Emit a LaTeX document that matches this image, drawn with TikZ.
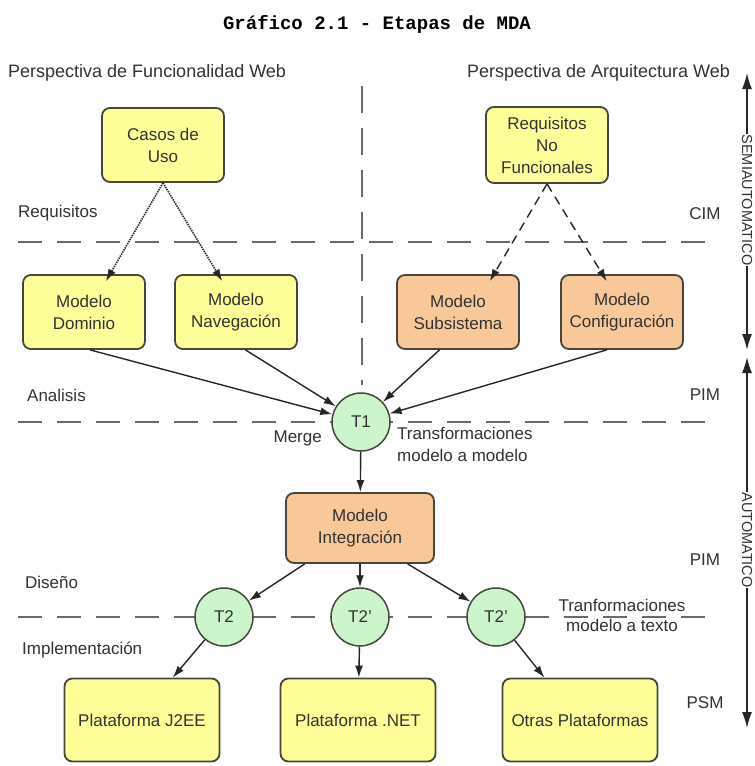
\documentclass[tikz,border=0pt]{standalone}
\usepackage{fontspec}
\setmainfont{Liberation Sans}
\newfontfamily\titlefont{Liberation Mono}
\usetikzlibrary{arrows.meta,calc}
\definecolor{boxyellow}{RGB}{255,255,153}
\definecolor{boxorange}{RGB}{249,200,152}
\definecolor{circgreen}{RGB}{204,245,204}
\definecolor{edgegray}{RGB}{70,70,60}
\definecolor{txt}{RGB}{50,50,50}
\definecolor{divgray}{RGB}{105,105,105}
\begin{document}
\begin{tikzpicture}[x=1pt,y=-1pt,
  every node/.style={text=txt, font=\fontsize{17}{22}\selectfont},
  box/.style={draw=edgegray, line width=1.8pt, rounded corners=8pt, align=center, minimum width=122pt, minimum height=74pt, inner sep=2pt},
  ybox/.style={box, fill=boxyellow},
  obox/.style={box, fill=boxorange},
  tnode/.style={circle, draw=edgegray, line width=1.5pt, fill=circgreen, minimum size=58pt, inner sep=0pt},
  conn/.style={draw=black!85, line width=1.4pt, -{Latex[length=12pt,width=8pt]}},
  divider/.style={draw=divgray, line width=2.5pt, dash pattern=on 24pt off 15pt},
  lbl/.style={inner sep=0pt},
  sidearrow/.style={draw=black!85, line width=1.5pt, {Latex[length=16pt,width=10pt]}-{Latex[length=16pt,width=10pt]}},
  sidetext/.style={fill=white, rotate=-90, inner sep=0.5pt, font=\fontsize{14.5}{17}\selectfont}
]
\fill[white] (0,0) rectangle (755,766);
\useasboundingbox (0,0) rectangle (755,766);

% title and headers
\node[lbl, text=black, font=\titlefont\bfseries\fontsize{19}{22}\selectfont] (title) at (377,24) {Gráfico 2.1 - Etapas de MDA};
\node[lbl, anchor=west, font=\fontsize{18}{22}\selectfont] (hleft) at (8,73) {Perspectiva de Funcionalidad Web};
\node[lbl, anchor=east, font=\fontsize{18}{22}\selectfont] (hright) at (730,73) {Perspectiva de Arquitectura Web};

% dividers
\draw[divider] (18,242) -- (710,242);
\draw[divider] (18,422) -- (710,422);
\draw[divider] (18,617) -- (710,617);
\draw[divider, dash pattern=on 27pt off 15pt] (362,86) -- (362,385);

% side labels
\node[lbl, anchor=west] (lreq) at (18,213) {Requisitos};
\node[lbl, anchor=west] (lana) at (27,395) {Analisis};
\node[lbl, anchor=west] (ldis) at (25,582) {Diseño};
\node[lbl, anchor=west] (limp) at (22,650) {Implementación};
\node[lbl] (lcim) at (705,214) {CIM};
\node[lbl] (lpim1) at (705,395) {PIM};
\node[lbl] (lpim2) at (705,560) {PIM};
\node[lbl] (lpsm) at (705,703) {PSM};

% boxes
\node[ybox] (casos) at (163,145) {Casos de\\Uso};
\node[ybox, minimum height=76pt] (rnf) at (547,145) {Requisitos\\No\\Funcionales};
\node[ybox] (dom) at (84,312) {Modelo\\Dominio};
\node[ybox] (nav) at (236,312) {Modelo\\Navegación};
\node[obox] (sub) at (458,312) {Modelo\\Subsistema};
\node[obox] (conf) at (622,312) {Modelo\\Configuración};
\node[tnode] (t1) at (361,422) {T1};
\node[obox, minimum width=148pt, minimum height=70pt] (integ) at (360,528) {Modelo\\Integración};
\node[tnode] (t2) at (224,617) {T2};
\node[tnode] (t2p) at (360,617) {T2'};
\node[tnode] (t2pp) at (496,617) {T2'};
\node[ybox, minimum width=155pt, minimum height=83pt] (j2ee) at (142,720) {Plataforma J2EE};
\node[ybox, minimum width=155pt, minimum height=83pt] (net) at (358,720) {Plataforma .NET};
\node[ybox, minimum width=155pt, minimum height=83pt] (otras) at (580,720) {Otras Plataformas};

% annotations
\node[lbl, anchor=east] (merge) at (322,438) {Merge};
\node[lbl, anchor=north west, align=left] (tmm) at (397,427) {Transformaciones\\modelo a modelo};
\node[lbl, align=center, font=\fontsize{17}{20}\selectfont] (tmt) at (622,615) {Tranformaciones\\modelo a texto};

% connectors
\draw[conn, densely dotted, line width=1.6pt] (casos.south) -- ([yshift=-7pt]dom.60);
\draw[conn, densely dotted, line width=1.6pt] (casos.south) -- ([yshift=-7pt]nav.110);
\draw[conn, dash pattern=on 9pt off 6pt] (rnf.south) -- ([yshift=-7pt]sub.50);
\draw[conn, dash pattern=on 9pt off 6pt] (rnf.south) -- ([yshift=-7pt]conf.112);
\draw[conn] (dom.-81) -- (t1);
\draw[conn] (nav.-76) -- (t1);
\draw[conn] (sub.-116) -- (t1);
\draw[conn] (conf.-112) -- (t1);
\draw[conn] (t1) -- (integ);
\draw[conn] (integ.-147) -- (t2);
\draw[conn] (integ) -- (t2p);
\draw[conn] (integ.-37) -- (t2pp);
\draw[conn] (t2) -- (j2ee.54);
\draw[conn] (t2p) -- (net);
\draw[conn] (t2pp) -- (otras.130);

% right side arrows
\coordinate (s1) at (747,73);
\coordinate (s2) at (747,350);
\coordinate (a1) at (747,357);
\coordinate (a2) at (747,728);
\draw[sidearrow] (s1) -- (s2);
\draw[sidearrow] (a1) -- (a2);
\node[sidetext] (semi) at (747,200) {SEMIAUTOMATICO};
\node[sidetext] (auto) at (747,540) {AUTOMATICO};
\end{tikzpicture}
\end{document}
